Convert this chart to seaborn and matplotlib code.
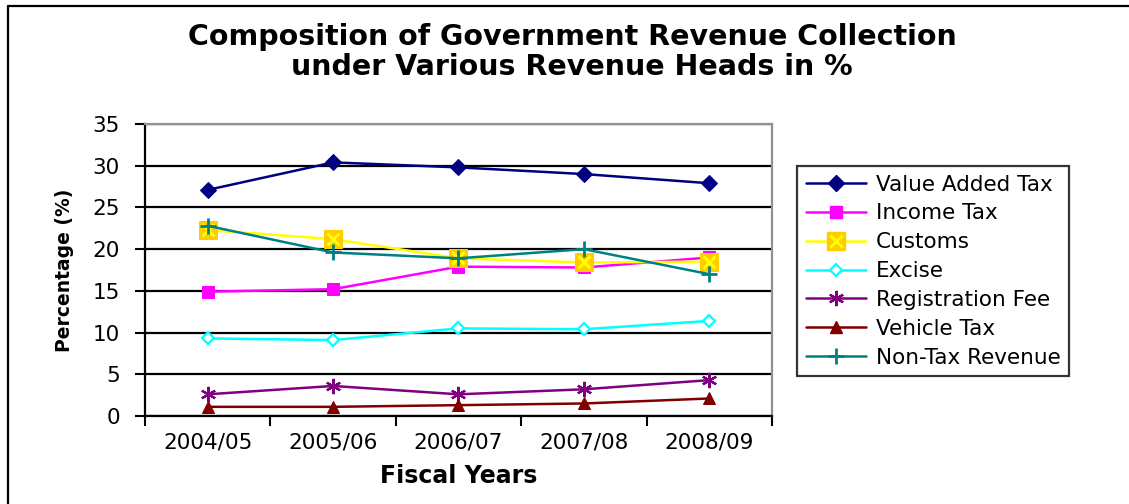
import matplotlib
matplotlib.use("Agg")
import matplotlib.pyplot as plt
from matplotlib.lines import Line2D
import seaborn as sns
import pandas as pd

# Fiscal years and revenue shares (% of total collection)
years = ["2004/05", "2005/06", "2006/07", "2007/08", "2008/09"]
value_added_tax = [27.1, 30.4, 29.8, 29.0, 27.9]
income_tax = [14.9, 15.2, 17.9, 17.8, 19.0]
customs = [22.3, 21.2, 18.9, 18.4, 18.5]
excise = [9.3, 9.1, 10.5, 10.4, 11.4]
registration_fee = [2.6, 3.6, 2.6, 3.2, 4.3]
vehicle_tax = [1.1, 1.1, 1.3, 1.5, 2.1]
non_tax_revenue = [22.8, 19.6, 18.9, 20.0, 17.0]

series_names = ["Value Added Tax", "Income Tax", "Customs", "Excise",
                "Registration Fee", "Vehicle Tax", "Non-Tax Revenue"]
series_values = [value_added_tax, income_tax, customs, excise,
                 registration_fee, vehicle_tax, non_tax_revenue]

df = pd.DataFrame({"Fiscal Year": years})
for name, vals in zip(series_names, series_values):
    df[name] = vals

sns.set_theme(style="white")
plt.rcParams["font.family"] = ["DejaVu Sans"]
plt.rcParams["text.color"] = "black"

fig = plt.figure(figsize=(11.29, 5.04), dpi=100)
ax = fig.add_axes([145 / 1129, 1 - 416 / 504, (772 - 145) / 1129, (416 - 124) / 504])

styles = {
    "Value Added Tax": dict(color="#000080", marker="D", markersize=8,
                            markerfacecolor="#000080", markeredgecolor="#000080"),
    "Income Tax": dict(color="#FF00FF", marker="s", markersize=8,
                       markerfacecolor="#FF00FF", markeredgecolor="#FF00FF"),
    "Customs": dict(color="#FFFF00", marker="s", markersize=13,
                    markerfacecolor="#FFCC00", markeredgecolor="#FFCC00"),
    "Excise": dict(color="#00FFFF", marker="D", markersize=6.5,
                   markerfacecolor="white", markeredgecolor="#00FFFF",
                   markeredgewidth=1.6),
    "Registration Fee": dict(color="#800080", marker=(6, 2, 0), markersize=11,
                             markeredgecolor="#800080", markeredgewidth=1.6),
    "Vehicle Tax": dict(color="#800000", marker="^", markersize=9,
                        markerfacecolor="#800000", markeredgecolor="#800000"),
    "Non-Tax Revenue": dict(color="#008080", marker="+", markersize=12,
                            markeredgecolor="#008080", markeredgewidth=2),
}

handles = []
for name in series_names:
    st = styles[name]
    sns.lineplot(data=df, x="Fiscal Year", y=name, ax=ax, sort=False,
                 linewidth=1.8, label=name, legend=False, **st)
    h = Line2D([], [], linewidth=1.8, **st)
    if name == "Customs":
        # yellow cross drawn over the gold square marker
        sns.lineplot(data=df, x="Fiscal Year", y=name, ax=ax, sort=False,
                     linestyle="none", marker="x", markersize=9,
                     markeredgecolor="#FFFF00", markeredgewidth=2,
                     color="#FFFF00", legend=False)
        hx = Line2D([], [], linestyle="none", marker="x", markersize=9,
                    markeredgecolor="#FFFF00", markeredgewidth=2)
        h = (h, hx)
    handles.append(h)

ax.set_xlim(-0.5, len(years) - 0.5)
ax.set_ylim(0, 35)
ax.set_yticks(range(0, 36, 5))
ax.set_xticks(range(len(years)))
ax.set_xticklabels(years)
ax.set_xticks([i - 0.5 for i in range(len(years) + 1)], minor=True)

ax.tick_params(axis="x", which="major", length=0, pad=12, labelsize=15.5,
               labelcolor="black")
ax.tick_params(axis="x", which="minor", length=7, width=1.5, direction="out",
               color="black", bottom=True)
ax.tick_params(axis="y", length=7, width=1.5, direction="out", pad=11,
               labelsize=15.5, color="black", left=True, labelcolor="black")

ax.set_axisbelow(True)
ax.grid(axis="y", color="black", linewidth=1.6)
ax.grid(axis="x", visible=False)
for side in ["left", "bottom"]:
    ax.spines[side].set_color("black")
    ax.spines[side].set_linewidth(1.6)
for side in ["top", "right"]:
    ax.spines[side].set_color("#909090")
    ax.spines[side].set_linewidth(1.6)

ax.set_xlabel("Fiscal Years", fontsize=17, fontweight="bold", labelpad=8,
              color="black")
ax.set_ylabel("Percentage (%)", fontsize=13.5, fontweight="bold",
              family=["DejaVu Sans Condensed", "Liberation Sans Narrow",
                      "DejaVu Sans"],
              labelpad=13, color="black")

fig.text(572 / 1129, 1 - 52 / 504,
         "Composition of Government Revenue Collection\n"
         "under Various Revenue Heads in %",
         ha="center", va="center", fontsize=20.5, fontweight="bold",
         linespacing=1.05, color="black")

leg = fig.legend(handles, series_names, loc="upper left",
                 bbox_to_anchor=(797 / 1129, 1 - 166 / 504),
                 bbox_transform=fig.transFigure,
                 borderaxespad=0, fontsize=15.5, handlelength=2.8,
                 handletextpad=0.45, labelspacing=0.41, borderpad=0.4,
                 fancybox=False, frameon=True)
leg.get_frame().set_edgecolor("black")
leg.get_frame().set_linewidth(1.6)
for t in leg.get_texts():
    t.set_color("black")

# outer chart border
fig.add_artist(Line2D([8 / 1129, 8 / 1129], [0, 1 - 6 / 504],
                      transform=fig.transFigure, color="black", linewidth=1.6))
fig.add_artist(Line2D([8 / 1129, 1], [1 - 6 / 504, 1 - 6 / 504],
                      transform=fig.transFigure, color="black", linewidth=1.6))

fig.savefig("out.png", dpi=100, facecolor="white")
